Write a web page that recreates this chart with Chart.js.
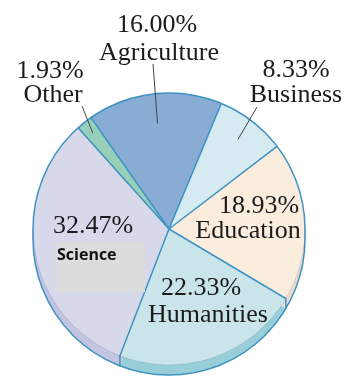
<!DOCTYPE html>
<html>
<head>
<meta charset="utf-8">
<script src="https://cdn.jsdelivr.net/npm/chart.js@4"></script>
<style>
  html, body { margin: 0; padding: 0; background: #fff; }
  canvas { display: block; }
</style>
</head>
<body>
<canvas id="majorsPie" width="354" height="378"></canvas>
<script>
// 専攻別の割合（時計回り、Agriculture から）
const categories = ['Agriculture', 'Business', 'Education', 'Humanities', 'Science', 'Other'];
const percents = [16.00, 8.33, 18.93, 22.33, 32.47, 1.93];

const faceColors = ['#89acd4', '#d6eaf2', '#faeddd', '#c9e5ea', '#d7d9eb', '#97cfbb'];
const rimColors = ['#7c9fc8', '#c2dce8', '#ecdcc8', '#98ced7', '#c2c4e0', '#80bea9'];

// ラベル位置: [x, 1行目ベースライン, 2行目x, 2行目ベースライン]
const labelPos = [
  [157, 32, 159, 60],
  [296, 77, 296, 102],
  [259, 213, 248, 238],
  [201, 295, 208, 322],
  [93, 233, 57, 260],
  [50, 78, 53, 102]
];
// 引き出し線: [index, 外側x, 外側y, 半径比]
const leaders = [
  [0, 153, 64, 0.78],
  [1, 257, 107, 0.83],
  [5, 82, 106, 0.9]
];

const RIM = 10;
const EDGE = '#3d92c2';

// 側面（厚み）を先に描く
const rimPlugin = {
  id: 'rim',
  beforeDatasetsDraw(chart) {
    const ctx = chart.ctx;
    const arcs = chart.getDatasetMeta(0).data;
    ctx.save();
    arcs.forEach((a, i) => {
      ctx.beginPath();
      ctx.moveTo(a.x, a.y + RIM);
      ctx.arc(a.x, a.y + RIM, a.outerRadius, a.startAngle, a.endAngle);
      ctx.closePath();
      ctx.fillStyle = rimColors[i];
      ctx.fill();
    });
    ctx.restore();
  },
  afterDatasetsDraw(chart) {
    const ctx = chart.ctx;
    const arcs = chart.getDatasetMeta(0).data;
    const { x, y, outerRadius: r } = arcs[0];
    ctx.save();
    ctx.lineWidth = 1.5;
    ctx.strokeStyle = EDGE;

    // 放射状の区切り線と側面の縦の継ぎ目
    arcs.forEach((a) => {
      const ex = x + Math.cos(a.startAngle) * r;
      const ey = y + Math.sin(a.startAngle) * r;
      ctx.beginPath();
      ctx.moveTo(x, y);
      ctx.lineTo(ex, ey);
      if (Math.sin(a.startAngle) > 0) ctx.lineTo(ex, ey + RIM);
      ctx.stroke();
    });

    // 外形: 上半分は天面、下半分は側面の下端
    ctx.beginPath();
    ctx.arc(x, y, r, Math.PI, 2 * Math.PI);
    ctx.lineTo(x + r, y + RIM);
    ctx.arc(x, y + RIM, r, 0, Math.PI);
    ctx.closePath();
    ctx.stroke();

    // 天面と側面の境目は薄く
    ctx.strokeStyle = 'rgba(70, 90, 140, 0.18)';
    ctx.lineWidth = 1;
    ctx.beginPath();
    ctx.arc(x, y, r, 0, Math.PI);
    ctx.stroke();
    ctx.restore();
  }
};

const labelPlugin = {
  id: 'pieLabels',
  afterDraw(chart) {
    const ctx = chart.ctx;
    const arcs = chart.getDatasetMeta(0).data;
    ctx.save();

    // 引き出し線
    ctx.strokeStyle = '#444';
    ctx.lineWidth = 1;
    leaders.forEach(([i, lx, ly, f]) => {
      const a = arcs[i];
      const mid = (a.startAngle + a.endAngle) / 2;
      const r = a.outerRadius * f;
      ctx.beginPath();
      ctx.moveTo(lx, ly);
      ctx.lineTo(a.x + Math.cos(mid) * r, a.y + Math.sin(mid) * r);
      ctx.stroke();
    });

    // Science の灰色ボックス
    ctx.fillStyle = '#dcdcdd';
    ctx.fillRect(55, 242, 90, 50);

    ctx.textBaseline = 'alphabetic';
    categories.forEach((name, i) => {
      const [px, py, nx, ny] = labelPos[i];
      ctx.fillStyle = '#1b1b1b';
      ctx.font = '26px "Liberation Serif", "Times New Roman", serif';
      ctx.textAlign = 'center';
      ctx.fillText(percents[i].toFixed(2) + '%', px, py);
      if (name === 'Science') {
        ctx.font = 'bold 16px "Open Sans", sans-serif';
        ctx.textAlign = 'left';
        ctx.fillStyle = '#111';
      }
      ctx.fillText(name, nx, ny);
    });
    ctx.restore();
  }
};

new Chart(document.getElementById('majorsPie'), {
  type: 'pie',
  data: {
    labels: categories,
    datasets: [{
      data: percents,
      backgroundColor: faceColors,
      borderWidth: 0
    }]
  },
  options: {
    responsive: false,
    animation: false,
    rotation: -35,
    layout: {
      padding: { left: 33, right: 49, top: 93, bottom: 13 }
    },
    plugins: {
      legend: { display: false },
      tooltip: { enabled: false }
    }
  },
  plugins: [rimPlugin, labelPlugin]
});
</script>
</body>
</html>
